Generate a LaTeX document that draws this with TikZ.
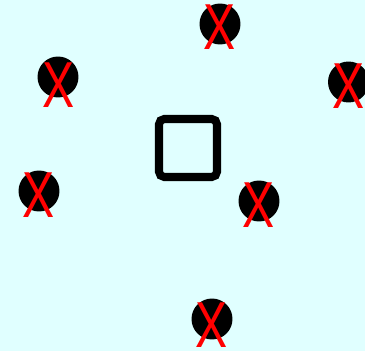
\documentclass[tikz,border=0pt]{standalone}
\usepackage{fontspec}
\setmainfont{Liberation Sans}
\definecolor{bgcyan}{HTML}{E0FFFF}
\tikzset{
  dot/.style={circle,fill=black,minimum size=0.82cm,inner sep=0pt},
  cross/.style={text=red,inner sep=0pt,xscale=0.74,font=\fontsize{37}{37}\selectfont}
}
\begin{document}
\begin{tikzpicture}[x=0.02cm,y=-0.02cm]
\fill[bgcyan] (0,0) rectangle (365,351);
\useasboundingbox (0,0) rectangle (365,351);
\draw[line width=4.6pt,rounded corners=3pt] (159,119) rectangle (217,177);
\node[dot] (d1) at (220,24) {};
\node[cross] (x1) at (220,27) {X};
\node[dot] (d2) at (58,77) {};
\node[cross] (x2) at (59,85) {X};
\node[dot] (d3) at (348.5,82) {};
\node[cross] (x3) at (348.5,86) {X};
\node[dot] (d4) at (39,191) {};
\node[cross] (x4) at (39,195.5) {X};
\node[dot] (d5) at (259,201) {};
\node[cross] (x5) at (259,205.5) {X};
\node[dot] (d6) at (212,319) {};
\node[cross] (x6) at (212,325.5) {X};
\end{tikzpicture}
\end{document}
